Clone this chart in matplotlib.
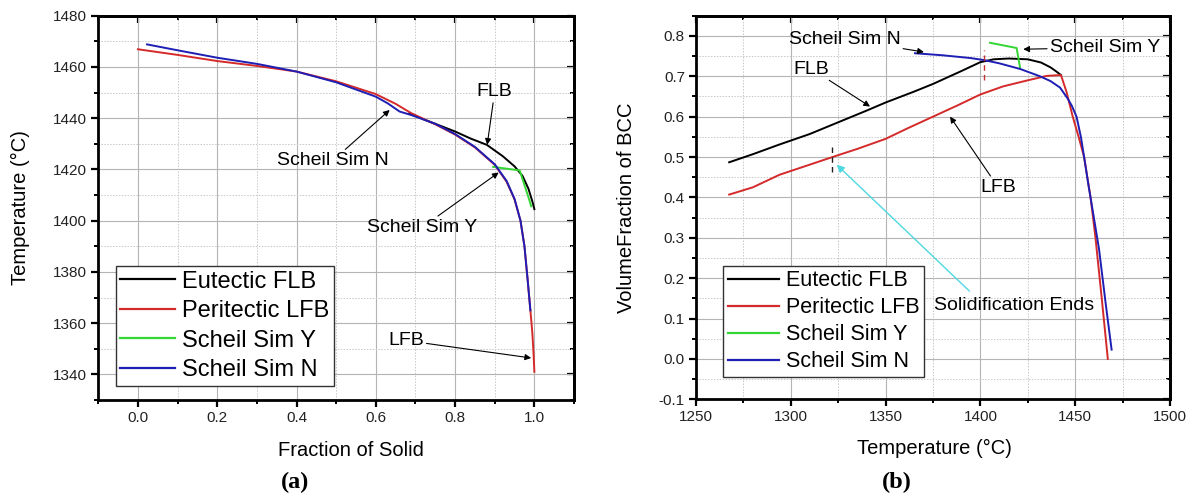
import matplotlib
matplotlib.use("Agg")
import matplotlib.pyplot as plt
from matplotlib.ticker import MultipleLocator

plt.rcParams['font.family'] = ['Liberation Sans', 'DejaVu Sans']

# ---------------- data: panel (a) ----------------
frac_eut = [0.685, 0.72, 0.76, 0.80, 0.84, 0.88, 0.92, 0.95, 0.97, 0.985, 0.995, 1.0]
temp_eut = [1442.0, 1439.6, 1437.2, 1434.8, 1432.0, 1429.6, 1425.2, 1421.2, 1417.5, 1412.5, 1407.5, 1404.5]

frac_per = [0.0, 0.1, 0.2, 0.3, 0.4, 0.5, 0.6, 0.65, 0.69, 0.75, 0.8, 0.85, 0.9, 0.93,
            0.95, 0.965, 0.975, 0.983, 0.99, 0.995, 0.998, 1.0]
temp_per = [1466.9, 1464.7, 1462.3, 1460.4, 1458.2, 1454.4, 1449.4, 1445.6, 1441.9, 1437.6,
            1433.6, 1428.6, 1421.8, 1415.2, 1408.3, 1400, 1390, 1377, 1365, 1356, 1348, 1341]

frac_sy = [0.896, 0.93, 0.963, 0.987, 0.992]
temp_sy = [1421.0, 1420.3, 1419.6, 1408.2, 1405.6]

frac_sn = [0.023, 0.1, 0.2, 0.3, 0.4, 0.5, 0.6, 0.63, 0.66, 0.69, 0.75, 0.8, 0.85, 0.9,
           0.93, 0.95, 0.965, 0.975, 0.983, 0.99]
temp_sn = [1468.8, 1466.5, 1463.6, 1461.2, 1458.2, 1454.0, 1448.4, 1445.8, 1442.6, 1441.2,
           1437.8, 1433.8, 1428.8, 1422.0, 1415.5, 1408.5, 1400, 1390, 1377, 1365]

# ---------------- data: panel (b) ----------------
tb_eut = [1267.5, 1280, 1294, 1310, 1325, 1340, 1350, 1365, 1375, 1390, 1400, 1407,
          1415, 1425, 1432, 1437, 1440, 1442.5]
vb_eut = [0.487, 0.507, 0.531, 0.557, 0.586, 0.615, 0.635, 0.662, 0.681, 0.713, 0.735,
          0.742, 0.744, 0.742, 0.734, 0.722, 0.712, 0.703]

tb_per = [1267.5, 1280, 1294, 1308, 1322, 1335, 1350, 1362, 1375, 1388, 1400, 1412, 1425,
          1435, 1442.5, 1445.5, 1448.7, 1451.8, 1454.7, 1458.1, 1460.7, 1464, 1467.2]
vb_per = [0.407, 0.425, 0.456, 0.478, 0.5, 0.52, 0.545, 0.572, 0.6, 0.628, 0.655, 0.675,
          0.69, 0.701, 0.703, 0.66, 0.6, 0.55, 0.5, 0.4, 0.3, 0.15, 0.0]

tb_sy = [1405, 1419.1, 1420.9]
vb_sy = [0.783, 0.770, 0.722]

tb_sn = [1365.5, 1380, 1395, 1402, 1410, 1421, 1431.4, 1437, 1442, 1446, 1448.2, 1450.7,
         1453, 1454.7, 1457, 1459.5, 1462.6, 1466, 1469.2]
vb_sn = [0.757, 0.752, 0.745, 0.74, 0.732, 0.718, 0.70, 0.688, 0.672, 0.645, 0.627, 0.6,
         0.55, 0.5, 0.43, 0.36, 0.271, 0.14, 0.023]

labels = ["Eutectic FLB", "Peritectic LFB", "Scheil Sim Y", "Scheil Sim N"]
colors = ["#000000", "#d42a2a", "#33d633", "#1e1eb4"]

fig = plt.figure(figsize=(11.95, 4.99), dpi=100)
W, H = 1195.0, 499.0


def make_axes(x0, x1, ytop, ybot):
    return fig.add_axes([x0 / W, 1 - ybot / H, (x1 - x0) / W, (ybot - ytop) / H])


def style(ax, xmaj, xmin, ymaj, ymin):
    ax.xaxis.set_major_locator(MultipleLocator(xmaj))
    ax.xaxis.set_minor_locator(MultipleLocator(xmin))
    ax.yaxis.set_major_locator(MultipleLocator(ymaj))
    ax.yaxis.set_minor_locator(MultipleLocator(ymin))
    ax.grid(which='major', color='#b4b4b4', lw=0.8, ls='-')
    ax.grid(which='minor', color='#c8c8c8', lw=0.7, ls=(0, (1.5, 1.5)))
    ax.set_axisbelow(True)
    for s in ax.spines.values():
        s.set_linewidth(2.0)
    ax.tick_params(which='major', direction='out', length=5, width=1.6, labelsize=11,
                   colors='k', labelcolor='#222222', pad=3)
    ax.tick_params(which='minor', direction='out', length=3, width=1.4)
    # top & right inward ticks
    secx = ax.secondary_xaxis('top')
    secx.xaxis.set_major_locator(MultipleLocator(xmaj))
    secx.xaxis.set_minor_locator(MultipleLocator(xmin))
    secx.tick_params(which='major', direction='in', length=5, width=1.6, labeltop=False)
    secx.tick_params(which='minor', direction='in', length=3, width=1.4)
    secx.spines['top'].set_linewidth(2.0)
    secy = ax.secondary_yaxis('right')
    secy.yaxis.set_major_locator(MultipleLocator(ymaj))
    secy.yaxis.set_minor_locator(MultipleLocator(ymin))
    secy.tick_params(which='major', direction='in', length=5, width=1.6, labelright=False)
    secy.tick_params(which='minor', direction='in', length=3, width=1.4)
    secy.spines['right'].set_linewidth(2.0)


arrow = dict(arrowstyle='-|>', color='k', lw=0.8, mutation_scale=9, shrinkA=0, shrinkB=0)

# ================= panel (a) =================
ax1 = make_axes(98.3, 574, 15.7, 400)
ax1.set_xlim(-0.1, 1.1)
ax1.set_ylim(1330, 1480)
style(ax1, 0.2, 0.1, 20, 10)
ax1.xaxis.set_major_formatter(matplotlib.ticker.FormatStrFormatter('%.1f'))

ax1.plot(frac_eut, temp_eut, color=colors[0], lw=1.4, label=labels[0])
ax1.plot(frac_per, temp_per, color=colors[1], lw=1.4, label=labels[1])
ax1.plot(frac_sy, temp_sy, color=colors[2], lw=1.4, label=labels[2])
ax1.plot(frac_sn, temp_sn, color=colors[3], lw=1.4, label=labels[3])

ax1.annotate("FLB", xy=(0.881, 1429.6), xytext=(0.90, 1450.4), fontsize=14,
             ha='center', va='center', arrowprops=arrow)
ax1.annotate("Scheil Sim N", xy=(0.635, 1443.2), xytext=(0.491, 1423.4), fontsize=14,
             ha='center', va='center', arrowprops=arrow)
ax1.annotate("Scheil Sim Y", xy=(0.91, 1418.8), xytext=(0.717, 1397.4), fontsize=14,
             ha='center', va='center', arrowprops=arrow)
ax1.annotate("LFB", xy=(0.992, 1346.4), xytext=(0.676, 1353.2), fontsize=14,
             ha='center', va='center', arrowprops=arrow)

leg1 = ax1.legend(loc='lower left', bbox_to_anchor=(0.0366, 0.0364), fontsize=17,
                  frameon=True, fancybox=False, framealpha=1, edgecolor='#333333',
                  borderpad=0.2, labelspacing=0.32, handlelength=2.3,
                  handletextpad=0.3, borderaxespad=0.0)
leg1.get_frame().set_linewidth(1.0)
for ln in leg1.get_lines():
    ln.set_linewidth(1.6)

fig.text(20 / W, 1 - 208 / H, "Temperature (°C)", rotation=90, fontsize=14.5,
         ha='center', va='center')
fig.text(351 / W, 1 - 450 / H, "Fraction of Solid", fontsize=14.5, ha='center', va='center')
fig.text(295.5 / W, 1 - 482 / H, "(a)", fontsize=17.5, fontweight='bold',
         family='Liberation Serif', ha='center', va='center')

# ================= panel (b) =================
ax2 = make_axes(696, 1170, 15.7, 399.3)
ax2.set_xlim(1250, 1500)
ax2.set_ylim(-0.1, 0.85)
style(ax2, 50, 25, 0.1, 0.05)
ax2.yaxis.set_major_formatter(matplotlib.ticker.FormatStrFormatter('%.1f'))

ax2.plot(tb_eut, vb_eut, color=colors[0], lw=1.4, label=labels[0])
ax2.plot(tb_per, vb_per, color=colors[1], lw=1.4, label=labels[1])
ax2.plot(tb_sy, vb_sy, color=colors[2], lw=1.4, label=labels[2])
ax2.plot(tb_sn, vb_sn, color=colors[3], lw=1.4, label=labels[3])

# solidification end markers
ax2.plot([1321.6, 1321.6], [0.462, 0.528], color='#222222', lw=1.0, ls=(0, (4, 3)))
ax2.plot([1401.9, 1401.9], [0.69, 0.765], color='#c03030', lw=1.0, ls=(0, (4, 3)))

ax2.annotate("Scheil Sim N", xy=(1370.2, 0.760), xytext=(1328.3, 0.792), fontsize=14,
             ha='center', va='center', arrowprops=arrow)
ax2.annotate("Scheil Sim Y", xy=(1422.6, 0.767), xytext=(1465.7, 0.771), fontsize=14,
             ha='center', va='center', arrowprops=arrow)
ax2.annotate("FLB", xy=(1341.8, 0.625), xytext=(1311.0, 0.718), fontsize=14,
             ha='center', va='center', arrowprops=arrow)
ax2.annotate("LFB", xy=(1384.0, 0.600), xytext=(1409.4, 0.425), fontsize=14,
             ha='center', va='center', arrowprops=arrow)
cyan_arrow = dict(arrowstyle='-|>', color='#4fd8e0', lw=1.0, mutation_scale=11,
                  shrinkA=0, shrinkB=0)
ax2.annotate("", xy=(1324.2, 0.481), xytext=(1394.2, 0.168), arrowprops=cyan_arrow)
ax2.text(1418.0, 0.133, "Solidification Ends", fontsize=14, ha='center', va='center')

leg2 = ax2.legend(loc='lower left', bbox_to_anchor=(0.0576, 0.059), fontsize=15.5,
                  frameon=True, fancybox=False, framealpha=1, edgecolor='#333333',
                  borderpad=0.2, labelspacing=0.28, handlelength=2.4,
                  handletextpad=0.3, borderaxespad=0.0)
leg2.get_frame().set_linewidth(1.0)
for ln in leg2.get_lines():
    ln.set_linewidth(1.6)

fig.text(627 / W, 1 - 207.5 / H, "VolumeFraction of BCC", rotation=90, fontsize=14.5,
         ha='center', va='center')
fig.text(934.6 / W, 1 - 448 / H, "Temperature (°C)", fontsize=14.5, ha='center', va='center')
fig.text(897.3 / W, 1 - 482 / H, "(b)", fontsize=17.5, fontweight='bold',
         family='Liberation Serif', ha='center', va='center')

fig.savefig("out.png", dpi=100)
